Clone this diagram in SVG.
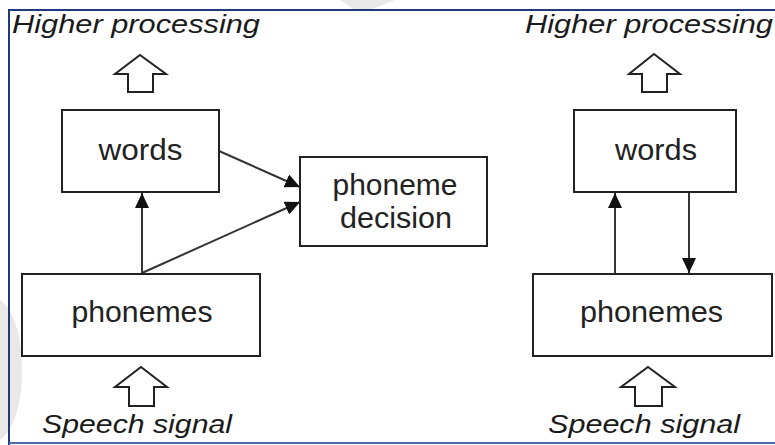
<svg xmlns="http://www.w3.org/2000/svg" width="775" height="445" viewBox="0 0 775 445">
<style>
.box{fill:#fff;stroke:#222;stroke-width:2}
.lbl{font-family:"Liberation Sans",Arial,sans-serif;font-size:29px;fill:#222;text-anchor:middle}
.it{font-family:"Liberation Sans",Arial,sans-serif;font-size:25px;font-style:italic;fill:#1a1a1a}
.con{stroke:#333;stroke-width:2;fill:none;marker-end:url(#ah)}
.blk{fill:#fff;stroke:#222;stroke-width:2;stroke-linejoin:miter}
.frame{stroke:#1f3a7a;stroke-width:2;fill:none}
.wm{fill:#e8e8e8}
</style>
<defs>
<marker id="ah" markerUnits="userSpaceOnUse" markerWidth="16" markerHeight="14" refX="15" refY="7" orient="auto">
<path d="M0,0 L15,7 L0,14 Z" fill="#111"/>
</marker>
</defs>
<rect width="775" height="445" fill="#fff"/>
<g id="watermark">
<path class="wm" d="M340,0 L395,0 L370,10 L355,10 Z"/>
<path class="wm" d="M0,300 A30,70 0 0 1 22,370 A30,70 0 0 1 0,440 Z"/>
</g>
<g id="frame">
<path class="frame" d="M9,445 L9,10 L775,10"/>
<path d="M9,443 L775,443" stroke="#4a6aa8" stroke-width="2"/>
</g>
<g id="connectors">
<line class="con" x1="142" y1="273" x2="142" y2="193"/>
<line class="con" x1="142" y1="273" x2="300" y2="202"/>
<line class="con" x1="219" y1="151" x2="300" y2="187"/>
<line class="con" x1="615" y1="273" x2="615" y2="193"/>
<line class="con" x1="689" y1="193" x2="689" y2="273"/>
</g>
<g id="words-left">
<rect class="box" x="62" y="110" width="157" height="82"/>
<text class="lbl" x="140.5" y="160" textLength="84" lengthAdjust="spacingAndGlyphs">words</text>
</g>
<g id="phoneme-decision">
<rect class="box" x="300" y="157" width="187" height="89"/>
<text class="lbl" x="395" y="195" textLength="125" lengthAdjust="spacingAndGlyphs">phoneme</text>
<text class="lbl" x="396" y="228" textLength="112" lengthAdjust="spacingAndGlyphs">decision</text>
</g>
<g id="phonemes-left">
<rect class="box" x="22" y="274" width="238" height="82"/>
<text class="lbl" x="142" y="322" textLength="141" lengthAdjust="spacingAndGlyphs">phonemes</text>
</g>
<g id="words-right">
<rect class="box" x="574" y="110" width="162" height="82"/>
<text class="lbl" x="656" y="160" textLength="82" lengthAdjust="spacingAndGlyphs">words</text>
</g>
<g id="phonemes-right">
<rect class="box" x="533" y="274" width="239" height="82"/>
<text class="lbl" x="651.5" y="322" textLength="143" lengthAdjust="spacingAndGlyphs">phonemes</text>
</g>
<g id="higher-left">
<text class="it" x="12" y="33" textLength="248" lengthAdjust="spacingAndGlyphs">Higher processing</text>
<path class="blk" d="M140,55 L166,74 L153,74 L153,92 L128,92 L128,74 L115,74 Z"/>
</g>
<g id="higher-right">
<text class="it" x="525" y="33" textLength="248" lengthAdjust="spacingAndGlyphs">Higher processing</text>
<path class="blk" d="M654,54 L680,74 L667,74 L667,92 L642,92 L642,74 L629,74 Z"/>
</g>
<g id="speech-left">
<path class="blk" d="M141,367 L167,387 L154,387 L154,406 L129,406 L129,387 L115,387 Z"/>
<text class="it" x="42" y="433" textLength="190" lengthAdjust="spacingAndGlyphs">Speech signal</text>
</g>
<g id="speech-right">
<path class="blk" d="M648,367 L675,387 L662,387 L662,406 L635,406 L635,387 L621,387 Z"/>
<text class="it" x="548" y="433" textLength="192" lengthAdjust="spacingAndGlyphs">Speech signal</text>
</g>
</svg>
